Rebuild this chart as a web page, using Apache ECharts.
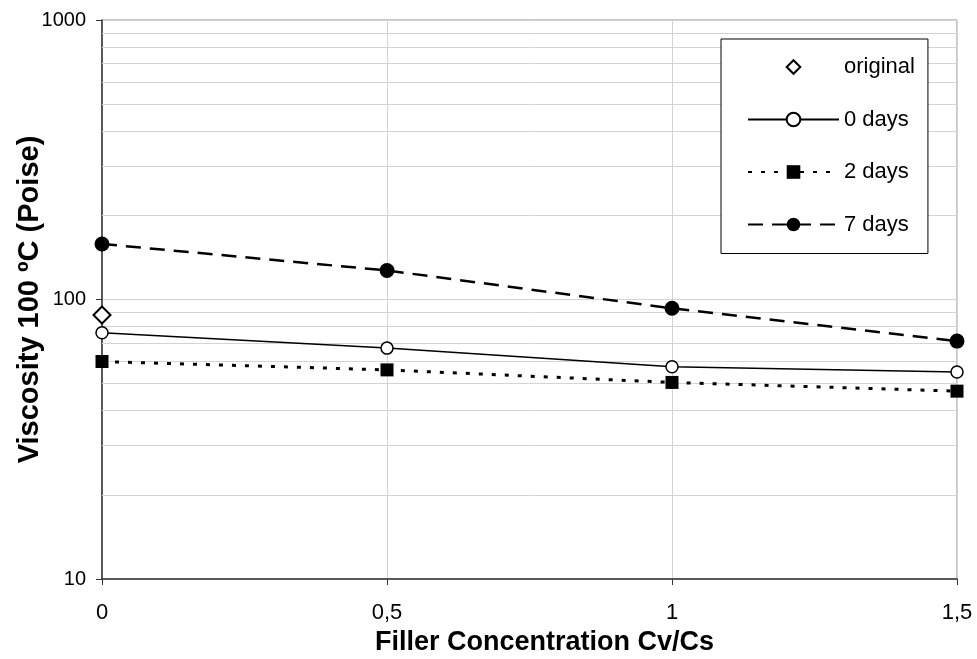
<!DOCTYPE html>
<html>
<head>
<meta charset="utf-8">
<script src="https://cdn.jsdelivr.net/npm/echarts@6/dist/echarts.min.js"></script>
<style>
  html, body { margin: 0; padding: 0; background: #fff; }
  #chart { width: 977px; height: 659px; }
</style>
</head>
<body>
<div id="chart"></div>
<script>
// concentrations Cv/Cs
var conc = [0, 0.5, 1, 1.5];
var xTickLabels = ['0', '0,5', '1', '1,5'];
// viscosity at 100 ºC (Poise)
var original = [88];
var days0 = [76, 67, 57.5, 55];
var days2 = [60, 56, 50.5, 47];
var days7 = [158, 127, 93, 71];
// minor grid lines of the log axis
var minorGrid = [20, 30, 40, 50, 60, 70, 80, 90, 200, 300, 400, 500, 600, 700, 800, 900];

function pairs(vals) {
  return vals.map(function (v, i) { return [conc[i], v]; });
}

var font = 'Liberation Sans, Arial, sans-serif';
var chart = echarts.init(document.getElementById('chart'));

chart.setOption({
  animation: false,
  backgroundColor: '#fff',
  textStyle: { fontFamily: font, color: '#000' },
  grid: {
    left: 102, right: 20, top: 20, bottom: 80,
    outerBoundsMode: 'none',
    containLabel: false,
    show: true, borderColor: '#8c8c8c', borderWidth: 1
  },
  legend: {
    orient: 'vertical',
    left: 721, top: 39,
    padding: [17, 13, 18, 26],
    borderColor: '#000', borderWidth: 1,
    backgroundColor: '#fff',
    z: 10,
    itemWidth: 91, itemHeight: 17, itemGap: 30.5,
    textStyle: { fontSize: 22, color: '#000', fontFamily: font },
    data: ['original', '0 days', '2 days', '7 days']
  },
  xAxis: {
    type: 'value',
    min: 0, max: 1.5, interval: 0.5,
    name: 'Filler Concentration Cv/Cs',
    nameLocation: 'middle',
    nameGap: 50,
    nameMoveOverlap: false,
    nameTextStyle: { fontSize: 27, fontWeight: 'bold', color: '#000', padding: [0, 0, 0, 30] },
    axisLine: { lineStyle: { color: '#333', width: 1.5 } },
    axisTick: { show: true, length: 6, lineStyle: { color: '#333' } },
    axisLabel: {
      margin: 23, fontSize: 22, color: '#000',
      formatter: function (v) { return xTickLabels[Math.round(v / 0.5)]; }
    },
    splitLine: { show: true, lineStyle: { color: '#d4d4d4', width: 1 } }
  },
  yAxis: {
    type: 'log', logBase: 10,
    min: 10, max: 1000,
    name: 'Viscosity 100 ºC (Poise)',
    nameLocation: 'middle',
    nameGap: 58,
    nameMoveOverlap: false,
    nameTextStyle: { fontSize: 29, fontWeight: 'bold', color: '#000' },
    axisLine: { show: true, lineStyle: { color: '#333', width: 1.5 } },
    axisTick: { show: true, length: 6, lineStyle: { color: '#333' } },
    axisLabel: {
      margin: 16, fontSize: 20, color: '#000',
      formatter: function (v) { return String(v); }
    },
    splitLine: { show: true, lineStyle: { color: '#d4d4d4', width: 1 } }
  },
  series: [
    {
      name: 'grid',
      type: 'line',
      data: [],
      z: 1,
      silent: true,
      markLine: {
        silent: true,
        z: 1,
        symbol: 'none',
        label: { show: false },
        lineStyle: { color: '#d4d4d4', width: 1, type: 'solid' },
        data: minorGrid.map(function (v) { return { yAxis: v }; })
      }
    },
    {
      name: '0 days',
      type: 'line',
      data: pairs(days0),
      symbol: 'circle', symbolSize: 12,
      itemStyle: { color: '#fff', borderColor: '#000', borderWidth: 1.5 },
      lineStyle: { color: '#000', width: 1.5, type: 'solid' },
      z: 3
    },
    {
      name: '2 days',
      type: 'line',
      data: pairs(days2),
      symbol: 'rect', symbolSize: 13,
      itemStyle: { color: '#000' },
      lineStyle: { color: '#000', width: 3, type: [4, 9] },
      z: 3
    },
    {
      name: '7 days',
      type: 'line',
      data: pairs(days7),
      symbol: 'circle', symbolSize: 15,
      itemStyle: { color: '#000' },
      lineStyle: { color: '#000', width: 2.5, type: [15, 9] },
      z: 3
    },
    {
      name: 'original',
      type: 'line',
      data: pairs(original),
      symbol: 'diamond', symbolSize: 17,
      itemStyle: { color: '#fff', borderColor: '#000', borderWidth: 2 },
      lineStyle: { width: 0, opacity: 0 },
      z: 4
    }
  ]
});
</script>
</body>
</html>
